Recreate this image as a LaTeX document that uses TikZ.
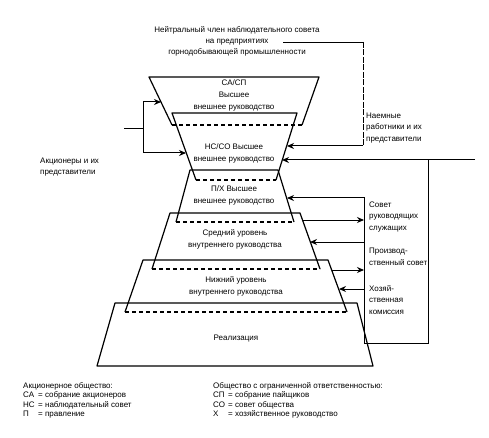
\documentclass[tikz,border=0pt]{standalone}
\usepackage{fontspec}
\setmainfont{Liberation Sans}
\usetikzlibrary{arrows.meta}

\begin{document}
\begin{tikzpicture}[x=1pt, y=-1pt,
    level/.style={line width=1.2pt, line join=round},
    hidden/.style={line width=1.2pt, dash pattern=on 4pt off 3pt},
    txt/.style={font=\fontsize{8}{12}\selectfont, align=center, inner sep=0pt},
    side/.style={font=\fontsize{8}{11.5}\selectfont, align=left, anchor=west, inner sep=0pt},
    legend/.style={font=\fontsize{8}{9.6}\selectfont, align=left, anchor=north west, inner sep=0pt},
    arrow/.style={->, line width=1pt, >={Stealth[length=7pt,width=6pt]}},
    link/.style={line width=1pt}
]
\useasboundingbox (0,0) rectangle (489,438);

% hourglass levels, top to bottom
\draw[level]  (172,125) -- (149,77) -- (319,77) -- (302,125);
\draw[hidden] (172,125) -- (302,125);
\draw[level]  (196,180) -- (172,113) -- (297,113) -- (276,180);
\draw[hidden] (196,180) -- (276,180);
\draw[level]  (176,222) -- (190,170) -- (278,170) -- (294,222);
\draw[hidden] (176,222) -- (294,222);
\draw[level]  (152,269) -- (170,213) -- (300,213) -- (320,269);
\draw[hidden] (152,269) -- (320,269);
\draw[level]  (125,312) -- (143,260) -- (328,260) -- (347,312);
\draw[hidden] (125,312) -- (347,312);
\draw[level]  (97,366) -- (115,303) -- (357,303) -- (373,366) -- cycle;

\node[txt] (sa) at (234,95)  {СА/СП\\Высшее\\внешнее руководство};
\node[txt] (ns) at (234,153) {НС/СО Высшее\\внешнее руководство};
\node[txt] (px) at (234,195) {П/Х Высшее\\внешнее руководство};
\node[txt] (mid) at (235,239) {Средний уровень\\внутреннего руководства};
\node[txt] (low) at (236,286) {Нижний уровень\\внутреннего руководства};
\node[txt] (real) at (236,339) {Реализация};

% points on the sides
\coordinate (t1w) at (161,102);
\coordinate (t2w) at (186,153);
\coordinate (t2e1) at (287,146);
\coordinate (t2e2) at (282,160);
\coordinate (t3e) at (287,198);
\coordinate (t4e1) at (302,220);
\coordinate (t4e2) at (310,242);
\coordinate (t5e1) at (332,270);
\coordinate (t5e2) at (339,289);

% neutral member
\node[txt, font=\fontsize{8}{11}\selectfont] (neutral) at (237,41)
  {Нейтральный член наблюдательного совета\\на предприятиях\\горнодобывающей промышленности};
\coordinate (nt) at (283,42);
\coordinate (ntc) at (363,42);
\coordinate (nbc) at (363,146);
\draw[line width=0.8pt] (nt) -- (ntc);
\draw[line width=0.7pt, dash pattern=on 6pt off 1.5pt] (ntc) -- (nbc);
\draw[arrow] (nbc) -- (t2e1);

% employees and councils
\node[side] (staff) at (366,128) {Наемные\\работники и их\\представители};
\coordinate (wk) at (475,160);
\coordinate (bj) at (428,160);
\coordinate (bsw) at (364,343);
\coordinate (bnw) at (364,198);
\draw[arrow] (wk) -- (t2e2);
\draw[arrow] (bj) |- (bsw) -- (bnw) -- (t3e);

\node[side] (board) at (369,217) {Совет\\руководящих\\служащих};
\node[side] (prod) at (369,257) {Производ-\\ственный совет};
\node[side] (econ) at (369,300) {Хозяй-\\ственная\\комиссия};
\coordinate (bx1) at (364,220);
\coordinate (bx2) at (364,242);
\coordinate (bx3) at (364,270);
\coordinate (bx4) at (364,289);
\draw[arrow] (t4e1) -- (bx1);
\draw[arrow] (bx2) -- (t4e2);
\draw[arrow] (t5e1) -- (bx3);
\draw[arrow] (bx4) -- (t5e2);

% shareholders
\node[side, font=\fontsize{8}{11}\selectfont] (share) at (40,167) {Акционеры и их\\представители};
\coordinate (sh) at (124,129);
\coordinate (sj) at (143,129);
\draw[link] (sh) -- (sj);
\draw[arrow] (sj) |- (t1w);
\draw[arrow] (sj) |- (t2w);

% legend
\node[legend] (ag) at (23,382) {Акционерное общество:\\
  \makebox[15pt][l]{СА}= собрание акционеров\\
  \makebox[15pt][l]{НС}= наблюдательный совет\\
  \makebox[15pt][l]{П}= правление};
\node[legend] (gmbh) at (213,382) {Общество с ограниченной ответственностью:\\
  \makebox[15pt][l]{СП}= собрание пайщиков\\
  \makebox[15pt][l]{СО}= совет общества\\
  \makebox[15pt][l]{Х}= хозяйственное руководство};
\end{tikzpicture}
\end{document}
